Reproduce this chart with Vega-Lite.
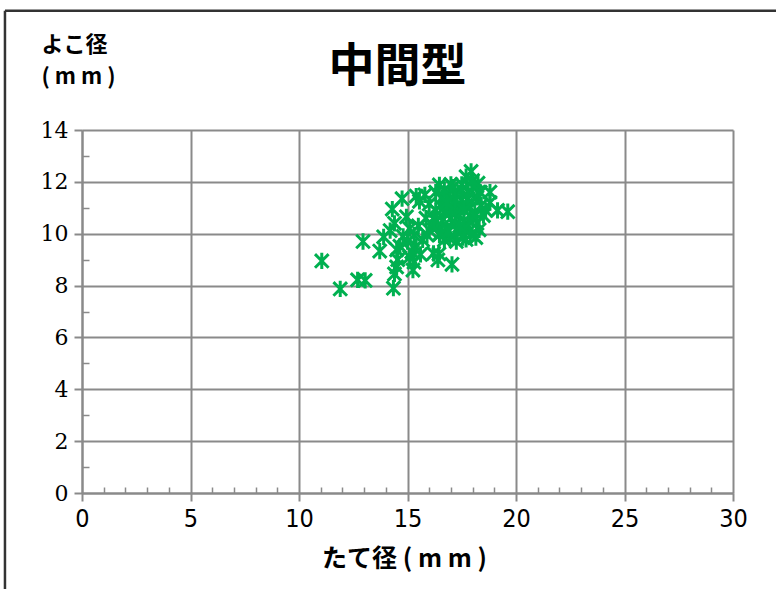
{
  "$schema": "https://vega.github.io/schema/vega-lite/v6.json",
  "width": 651,
  "height": 363,
  "autosize": {"type": "none"},
  "padding": {"left": 82, "top": 130, "right": 43, "bottom": 96},
  "background": "white",
  "config": {"view": {"stroke": null}},
  "title": {
    "text": "中間型",
    "font": "Noto Sans CJK JP",
    "fontSize": 46,
    "fontWeight": "bold",
    "color": "#000000",
    "anchor": "middle",
    "frame": "group",
    "dx": -10,
    "offset": -82
  },
  "data": {
    "values": [
      {"tate": 11.05, "yoko": 8.95}, {"tate": 11.9, "yoko": 7.87}, {"tate": 12.7, "yoko": 8.22}, {"tate": 13.05, "yoko": 8.2},
      {"tate": 12.95, "yoko": 9.7}, {"tate": 14.35, "yoko": 7.9}, {"tate": 14.4, "yoko": 8.45}, {"tate": 14.5, "yoko": 8.72},
      {"tate": 13.72, "yoko": 9.33}, {"tate": 13.9, "yoko": 9.88}, {"tate": 14.3, "yoko": 10.95}, {"tate": 14.75, "yoko": 11.35},
      {"tate": 15.4, "yoko": 11.45}, {"tate": 15.55, "yoko": 11.25}, {"tate": 14.4, "yoko": 10.4}, {"tate": 14.2, "yoko": 10.12},
      {"tate": 14.95, "yoko": 10.65}, {"tate": 14.5, "yoko": 9.38}, {"tate": 14.65, "yoko": 9.52}, {"tate": 14.55, "yoko": 9.0},
      {"tate": 15.1, "yoko": 9.1}, {"tate": 15.25, "yoko": 8.6}, {"tate": 15.4, "yoko": 9.5}, {"tate": 15.7, "yoko": 9.76},
      {"tate": 16.0, "yoko": 10.14}, {"tate": 16.3, "yoko": 10.5}, {"tate": 16.2, "yoko": 9.24}, {"tate": 16.4, "yoko": 8.99},
      {"tate": 16.45, "yoko": 9.22}, {"tate": 17.05, "yoko": 8.82}, {"tate": 15.8, "yoko": 11.5}, {"tate": 16.0, "yoko": 11.15},
      {"tate": 15.2, "yoko": 9.3}, {"tate": 15.0, "yoko": 9.7}, {"tate": 15.3, "yoko": 9.95}, {"tate": 15.5, "yoko": 10.3},
      {"tate": 15.85, "yoko": 10.6}, {"tate": 15.1, "yoko": 10.2}, {"tate": 14.8, "yoko": 9.9}, {"tate": 15.6, "yoko": 9.2},
      {"tate": 15.3, "yoko": 8.9}, {"tate": 15.9, "yoko": 9.95},
      {"tate": 16.47, "yoko": 11.88}, {"tate": 17.1, "yoko": 11.8}, {"tate": 17.93, "yoko": 12.4}, {"tate": 17.7, "yoko": 12.2},
      {"tate": 18.25, "yoko": 11.95}, {"tate": 18.8, "yoko": 11.6}, {"tate": 18.8, "yoko": 11.2}, {"tate": 19.15, "yoko": 10.9},
      {"tate": 19.62, "yoko": 10.85}, {"tate": 18.3, "yoko": 10.15}, {"tate": 16.7, "yoko": 9.76}, {"tate": 17.25, "yoko": 9.7},
      {"tate": 17.7, "yoko": 9.78}, {"tate": 17.55, "yoko": 9.85}, {"tate": 16.95, "yoko": 9.82}, {"tate": 16.47, "yoko": 9.95},
      {"tate": 18.15, "yoko": 9.85}, {"tate": 16.3, "yoko": 11.6}, {"tate": 16.6, "yoko": 11.4}, {"tate": 16.9, "yoko": 11.5},
      {"tate": 17.2, "yoko": 11.55}, {"tate": 17.5, "yoko": 11.7}, {"tate": 17.8, "yoko": 11.6}, {"tate": 18.0, "yoko": 11.8},
      {"tate": 18.2, "yoko": 11.4}, {"tate": 18.4, "yoko": 11.1}, {"tate": 18.5, "yoko": 10.7}, {"tate": 18.6, "yoko": 10.9},
      {"tate": 16.3, "yoko": 10.9}, {"tate": 16.5, "yoko": 11.1}, {"tate": 16.7, "yoko": 10.8}, {"tate": 16.9, "yoko": 11.0},
      {"tate": 17.1, "yoko": 11.2}, {"tate": 17.3, "yoko": 11.0}, {"tate": 17.5, "yoko": 11.3}, {"tate": 17.7, "yoko": 11.1},
      {"tate": 17.9, "yoko": 11.0}, {"tate": 18.1, "yoko": 10.8}, {"tate": 16.4, "yoko": 10.3}, {"tate": 16.6, "yoko": 10.5},
      {"tate": 16.8, "yoko": 10.2}, {"tate": 17.0, "yoko": 10.6}, {"tate": 17.2, "yoko": 10.4}, {"tate": 17.4, "yoko": 10.7},
      {"tate": 17.6, "yoko": 10.5}, {"tate": 17.8, "yoko": 10.3}, {"tate": 18.0, "yoko": 10.6}, {"tate": 18.2, "yoko": 10.4},
      {"tate": 16.5, "yoko": 10.0}, {"tate": 16.9, "yoko": 10.1}, {"tate": 17.3, "yoko": 10.1}, {"tate": 17.6, "yoko": 10.2},
      {"tate": 17.9, "yoko": 9.95}, {"tate": 17.0, "yoko": 11.9}, {"tate": 17.5, "yoko": 11.9}, {"tate": 16.7, "yoko": 11.7},
      {"tate": 18.0, "yoko": 12.05}, {"tate": 17.8, "yoko": 11.35}, {"tate": 17.0, "yoko": 10.9}, {"tate": 17.4, "yoko": 10.3},
      {"tate": 16.2, "yoko": 10.6}, {"tate": 18.35, "yoko": 11.6}, {"tate": 17.2, "yoko": 11.3}, {"tate": 16.8, "yoko": 11.2},
      {"tate": 17.6, "yoko": 10.9}
    ]
  },
  "layer": [
    {
      "mark": {
        "type": "point",
        "shape": "M-1,-1L1,1M-1,1L1,-1M0,-1.2L0,1.2",
        "filled": false,
        "stroke": "#00B050",
        "strokeWidth": 3,
        "size": 185,
        "opacity": 1
      },
      "encoding": {
        "x": {
          "field": "tate", "type": "quantitative",
          "scale": {"domain": [0, 30], "nice": false, "zero": false},
          "axis": {
            "orient": "bottom",
            "values": [0, 5, 10, 15, 20, 25, 30],
            "grid": true, "gridColor": "#8a8a8a", "gridWidth": 2,
            "domain": true, "domainColor": "#8a8a8a", "domainWidth": 2,
            "ticks": true, "tickColor": "#8a8a8a", "tickWidth": 2, "tickSize": 8,
            "labelFont": "Liberation Sans Narrow, DejaVu Sans Condensed, Roboto Condensed, Roboto, sans-serif", "labelFontSize": 25, "labelColor": "#000000",
            "labelPadding": 5, "labelFlush": false,
            "title": "たて径 ( m m )",
            "titleFont": "Noto Sans CJK JP", "titleFontSize": 25, "titleFontWeight": "bold", "titleColor": "#000000",
            "titleX": 322, "titleY": 53, "titleAlign": "center", "titleBaseline": "top"
          }
        },
        "y": {
          "field": "yoko", "type": "quantitative",
          "scale": {"domain": [0, 14], "nice": false, "zero": false},
          "axis": {
            "orient": "left",
            "values": [0, 2, 4, 6, 8, 10, 12, 14],
            "grid": true, "gridColor": "#8a8a8a", "gridWidth": 2,
            "domain": true, "domainColor": "#8a8a8a", "domainWidth": 2,
            "ticks": true, "tickColor": "#8a8a8a", "tickWidth": 2, "tickSize": 8,
            "labelFont": "DejaVu Serif", "labelFontSize": 22, "labelColor": "#000000",
            "labelPadding": 6, "labelFlush": false,
            "title": ["よこ径", "(  m m  )"],
            "titleFont": "Noto Sans CJK JP", "titleFontSize": 22, "titleFontWeight": "bold", "titleColor": "#000000",
            "titleAngle": 0, "titleAlign": "left", "titleBaseline": "top",
            "titleX": -41, "titleY": -96, "titleLineHeight": 32
          }
        }
      }
    },
    {
      "mark": {"type": "point", "opacity": 0},
      "encoding": {
        "x": {
          "field": "tate", "type": "quantitative",
          "scale": {"domain": [0, 30], "nice": false, "zero": false},
          "axis": {
            "orient": "bottom",
            "values": [1, 2, 3, 4, 6, 7, 8, 9, 11, 12, 13, 14, 16, 17, 18, 19, 21, 22, 23, 24, 26, 27, 28, 29],
            "grid": false, "domain": false, "labels": false, "title": null,
            "ticks": true, "tickColor": "#8a8a8a", "tickWidth": 1.5, "tickSize": -6
          }
        },
        "y": {
          "field": "yoko", "type": "quantitative",
          "scale": {"domain": [0, 14], "nice": false, "zero": false},
          "axis": {
            "orient": "left",
            "values": [1, 3, 5, 7, 9, 11, 13],
            "grid": false, "domain": false, "labels": false, "title": null,
            "ticks": true, "tickColor": "#8a8a8a", "tickWidth": 1.5, "tickSize": -7
          }
        }
      }
    },
    {
      "data": {"values": [{}]},
      "mark": {"type": "rule", "stroke": "#333333", "strokeWidth": 2.5, "clip": false},
      "encoding": {
        "x": {"datum": -3.55, "type": "quantitative", "scale": {"domain": [0, 30], "nice": false, "zero": false}, "axis": null},
        "x2": {"datum": 40},
        "y": {"datum": 18.6, "type": "quantitative", "scale": {"domain": [0, 14], "nice": false, "zero": false}, "axis": null}
      }
    },
    {
      "data": {"values": [{}]},
      "mark": {"type": "rule", "stroke": "#333333", "strokeWidth": 2.5, "clip": false},
      "encoding": {
        "x": {"datum": -3.55, "type": "quantitative", "scale": {"domain": [0, 30], "nice": false, "zero": false}, "axis": null},
        "y": {"datum": 18.6, "type": "quantitative", "scale": {"domain": [0, 14], "nice": false, "zero": false}, "axis": null},
        "y2": {"datum": -6}
      }
    }
  ],
  "resolve": {"axis": {"x": "independent", "y": "independent"}}
}
